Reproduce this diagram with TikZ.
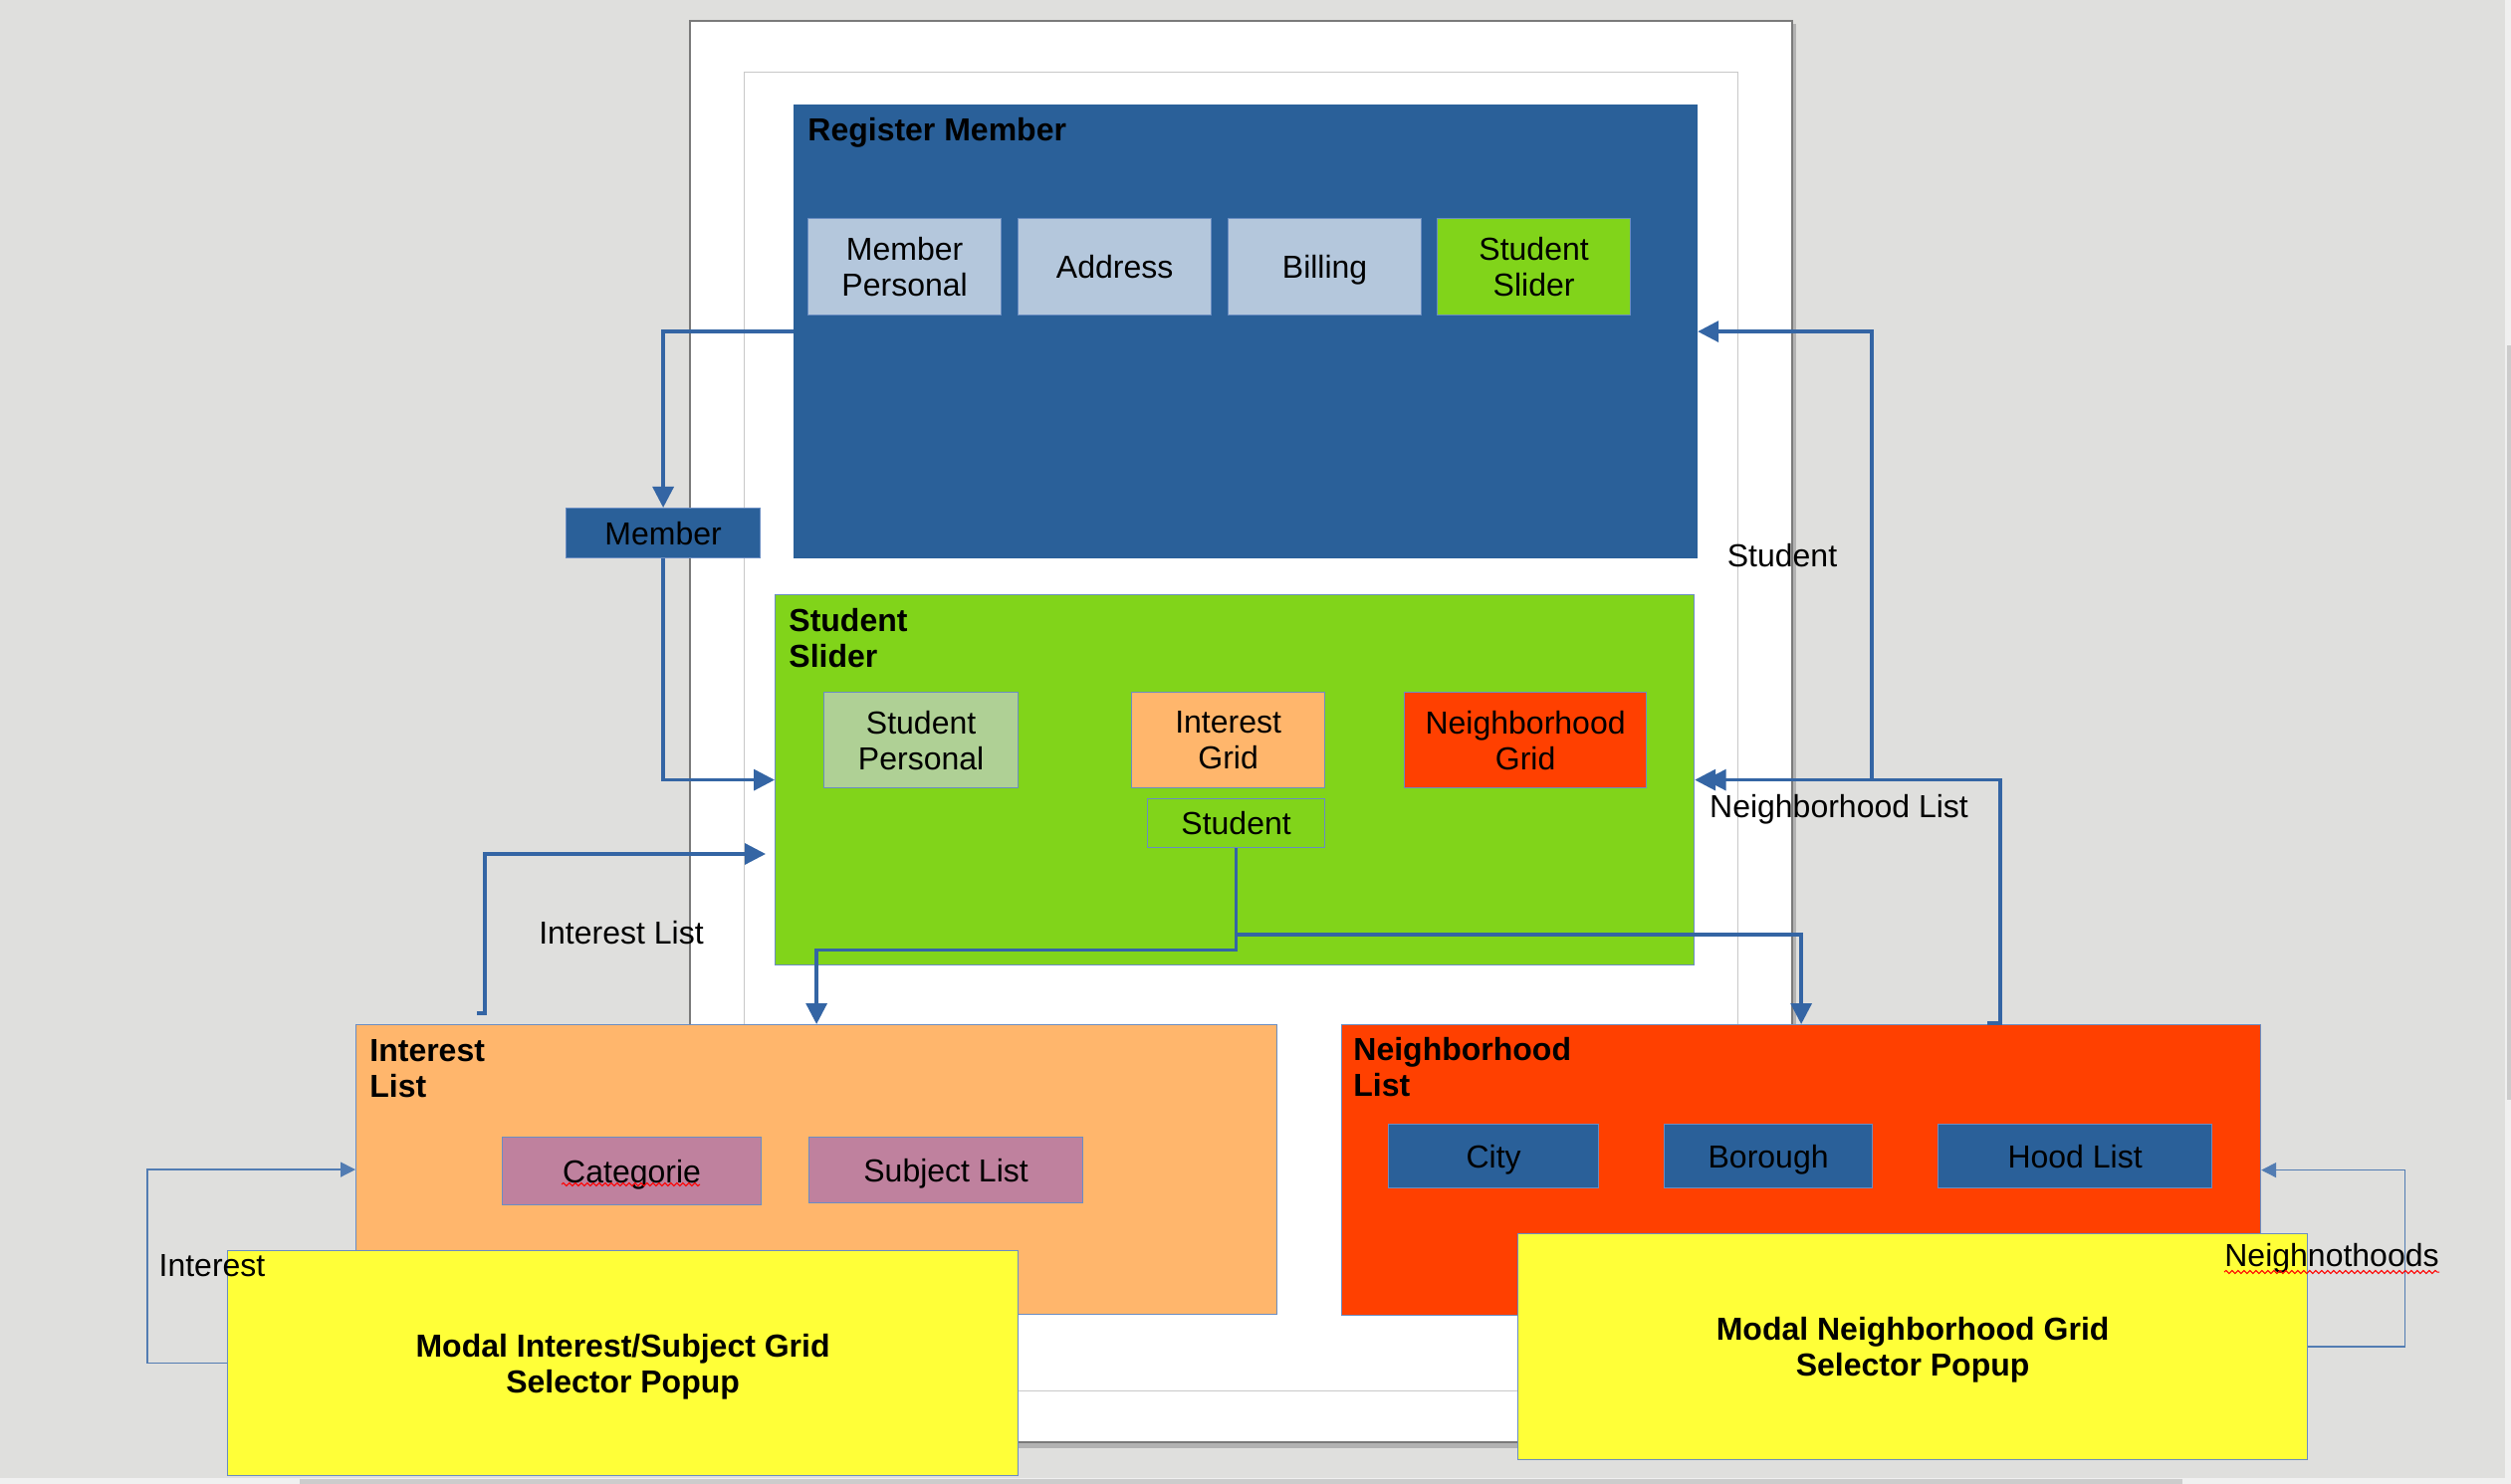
\documentclass[tikz,border=0pt]{standalone}
\usepackage{fontspec}
\setmainfont{Liberation Sans}
\usetikzlibrary{arrows.meta,decorations.pathmorphing}
\definecolor{desk}{RGB}{223,223,221}
\definecolor{pageedge}{RGB}{122,122,122}
\definecolor{marginline}{RGB}{200,200,200}
\definecolor{navy}{HTML}{2A6099}
\definecolor{pale}{HTML}{B4C7DC}
\definecolor{lime}{HTML}{81D41A}
\definecolor{sage}{HTML}{AFD095}
\definecolor{peach}{HTML}{FFB66C}
\definecolor{flame}{HTML}{FF4000}
\definecolor{mauve}{HTML}{BF819E}
\definecolor{lemon}{HTML}{FFFF38}
\definecolor{wire}{HTML}{3465A4}
\definecolor{boxedge}{HTML}{6A8DC2}
\definecolor{scrolltrack}{RGB}{240,240,240}
\definecolor{scrollthumb}{RGB}{204,204,204}
\begin{document}
\begin{tikzpicture}[x=0.5pt,y=-0.5pt,
  every node/.style={font=\fontsize{16}{18}\selectfont, text=black},
  blk/.style={draw=boxedge, line width=0.6pt, anchor=north west, inner sep=0pt, align=center, text depth=0pt},
  ttl/.style={anchor=north west, inner sep=0pt, align=left, font=\fontsize{16}{18}\selectfont\bfseries},
  lbl/.style={inner sep=0pt, anchor=base},
  flow/.style={draw=wire, line width=1.65pt, -{Triangle[length=10.5pt,width=10.5pt]}},
  dblflow/.style={draw=wire, line width=1.65pt, -{Triangle[length=10.5pt,width=10.5pt,sep=-5.25pt]Triangle[length=10.5pt,width=10.5pt]}},
  backflow/.style={draw=wire!85!white, line width=0.7pt, -{Triangle[length=7.5pt,width=7.5pt]}},
  squiggle/.style={draw=red, line width=0.5pt, decorate, decoration={snake, segment length=3pt, amplitude=0.8pt}}
]
% desk, page and scrollbars
\useasboundingbox (0,0) rectangle (2522,1491);
\fill[desk] (0,0) rectangle (2522,1491);
\fill[black!30] (696,24) rectangle (1804,1455);
\draw[pageedge, fill=white, line width=1.2pt] (693,21) rectangle (1800,1449);
\draw[marginline, line width=0.5pt] (747,73) rectangle (1745,1397);
\fill[scrolltrack] (2516,0) rectangle (2522,1491);
\fill[scrollthumb] (2518,347) rectangle (2522,1105);
\fill[scrolltrack] (0,1485) rectangle (2522,1491);
\fill[scrollthumb] (301,1486) rectangle (2192,1491);

% Register Member panel
\node[blk, fill=navy, draw=navy, minimum width=453.5pt, minimum height=227.5pt] (rm) at (797,105) {};
\node[ttl] (rmT) at (811,118) {Register Member};
\node[blk, fill=pale, minimum width=97pt, minimum height=48.5pt] (mp) at (811,219) {Member\\Personal};
\node[blk, fill=pale, minimum width=97pt, minimum height=48.5pt] (addr) at (1022,219) {Address};
\node[blk, fill=pale, minimum width=97pt, minimum height=48.5pt] (bill) at (1233,219) {Billing};
\node[blk, fill=lime, minimum width=97pt, minimum height=48.5pt] (sslide) at (1443,219) {Student\\Slider};

% Member tab
\node[blk, fill=navy, minimum width=97.5pt, minimum height=25pt] (mem) at (568,510) {Member};

% Student Slider panel
\node[blk, fill=lime, minimum width=461.5pt, minimum height=186pt] (ss) at (778,597) {};
\node[ttl] (ssT) at (792,611) {Student\\Slider};
\node[blk, fill=sage, minimum width=97.5pt, minimum height=48pt] (sp) at (827,695) {Student\\Personal};
\node[blk, fill=peach, minimum width=97pt, minimum height=48pt] (ig) at (1136,695) {Interest\\Grid};
\node[blk, fill=lime, minimum width=89pt, minimum height=24.5pt] (stu) at (1152,802) {Student};
\node[blk, fill=flame, minimum width=121.5pt, minimum height=48pt] (ng) at (1410,695) {Neighborhood\\Grid};

% Interest List panel
\node[blk, fill=peach, minimum width=462.5pt, minimum height=145.5pt] (il) at (357,1029) {};
\node[ttl] (ilT) at (371,1044) {Interest\\List};
\node[blk, fill=mauve, minimum width=130pt, minimum height=34pt] (cat) at (504,1142) {Categorie};
\node[blk, fill=mauve, minimum width=137.5pt, minimum height=33pt] (subj) at (812,1142) {Subject List};

% Neighborhood List panel
\node[blk, fill=flame, minimum width=461.5pt, minimum height=146pt] (nl) at (1347,1029) {};
\node[ttl] (nlT) at (1359,1042) {Neighborhood\\List};
\node[blk, fill=navy, minimum width=105.5pt, minimum height=32pt] (city) at (1394,1129) {City};
\node[blk, fill=navy, minimum width=104.5pt, minimum height=32pt] (boro) at (1671,1129) {Borough};
\node[blk, fill=navy, minimum width=137.5pt, minimum height=32pt] (hood) at (1946,1129) {Hood List};

% modal popups
\node[blk, fill=lemon, minimum width=397pt, minimum height=113pt, font=\fontsize{16}{18}\selectfont\bfseries] (mi) at (228,1256) {Modal Interest/Subject Grid\\Selector Popup};
\node[blk, fill=lemon, minimum width=396.5pt, minimum height=113.5pt, font=\fontsize{16}{18}\selectfont\bfseries] (mn) at (1524,1239) {Modal Neighborhood Grid\\Selector Popup};

% connector end points
\coordinate (ilOut) at (479,1018);
\coordinate (ssIn) at (769,858);
\coordinate (stuSplit) at (1241,939);
\coordinate (nlOut) at (1996,1028);
\coordinate (stOut) at (1880,783);

% connectors
\draw[flow] (rm.west) -| (mem.north);
\draw[flow] (mem.south) |- (ss.west);
\draw[flow] (ilOut) -- ++(8,0) |- (ssIn);
\draw[flow] (stu.south) -- ++(0,102) -| (il.north);
\draw[flow] (stuSplit) -| (nl.north);
\draw[dblflow] (nlOut) -- ++(13,0) |- (ss.east);
\draw[flow] (stOut) |- (rm.east);
\draw[backflow] (mi.west) -- ++(-80,0) |- (il.west);
\draw[backflow] (mn.east) -- ++(97,0) |- (nl.east);

% connector labels
\node[lbl] (lIL) at (624,948) {Interest List};
\node[lbl] (lSt) at (1790,570) {Student};
\node[lbl] (lNL) at (1847,821) {Neighborhood List};
\node[lbl] (lIn) at (213,1282) {Interest};
\node[lbl] (lNh) at (2342,1272) {Neighnothoods};

% spell-check marks
\draw[squiggle] (564,1190) -- (703,1190);
\draw[squiggle] (2234,1278) -- (2450,1278);
\end{tikzpicture}
\end{document}
